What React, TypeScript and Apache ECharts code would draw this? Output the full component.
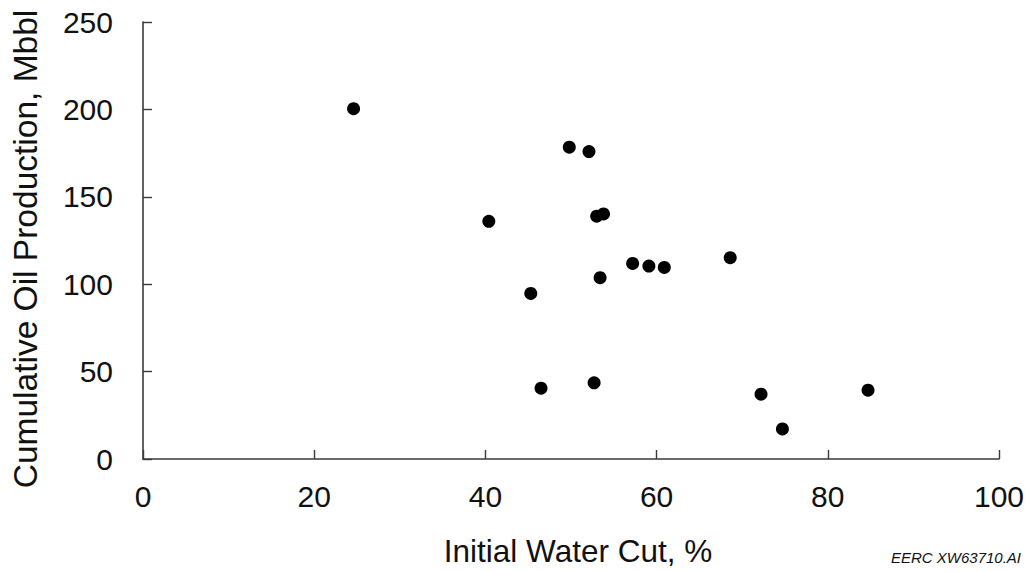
import React, { useEffect, useRef } from "react";
import * as echarts from "echarts";

// Initial water cut (%) and cumulative oil production (Mbbl) per well
const waterCut = [24.6, 49.8, 52.1, 40.4, 53.0, 53.8, 57.2, 59.1, 60.9, 68.6, 53.4, 45.3, 46.5, 52.7, 72.2, 74.7, 84.7];
const oilProduction = [200.4, 178.4, 175.9, 136.0, 138.9, 140.2, 111.9, 110.4, 109.6, 115.2, 103.7, 94.7, 40.5, 43.6, 37.1, 17.2, 39.4];

const xTitle = "Initial Water Cut, %";
const yTitle = "Cumulative Oil Production, Mbbl";
const figureId = "EERC XW63710.AI";

const FONT = "'Liberation Sans', Arial, sans-serif";

export default function App() {
  const ref = useRef<HTMLDivElement>(null);

  useEffect(() => {
    if (!ref.current) return;
    const chart = echarts.init(ref.current, null, { renderer: "svg" });
    const points = waterCut.map((x, i) => [x, oilProduction[i]]);
    chart.setOption({
      animation: false,
      backgroundColor: "#ffffff",
      grid: { left: 143, right: 29, top: 22, bottom: 112, containLabel: false },
      xAxis: {
        type: "value",
        min: 0,
        max: 100,
        interval: 20,
        splitLine: { show: false },
        axisLine: { show: true, lineStyle: { color: "#3a3a3a", width: 1.6 } },
        axisTick: { show: true, inside: true, length: 9, lineStyle: { color: "#3a3a3a", width: 1.4 } },
        axisLabel: { color: "#111", fontSize: 30, fontFamily: FONT, margin: 22 },
      },
      yAxis: {
        type: "value",
        min: 0,
        max: 250,
        interval: 50,
        splitLine: { show: false },
        axisLine: { show: true, lineStyle: { color: "#3a3a3a", width: 1.6 } },
        axisTick: { show: true, inside: true, length: 9, lineStyle: { color: "#3a3a3a", width: 1.4 } },
        axisLabel: { color: "#111", fontSize: 30, fontFamily: FONT, margin: 30 },
      },
      graphic: [
        {
          type: "text",
          x: 578,
          y: 551,
          style: {
            text: xTitle,
            fill: "#111",
            font: `31.5px ${FONT}`,
            textAlign: "center",
            textVerticalAlign: "middle",
          },
        },
        {
          type: "text",
          x: 25,
          y: 249,
          rotation: Math.PI / 2,
          style: {
            text: yTitle,
            fill: "#111",
            font: `33.5px ${FONT}`,
            textAlign: "center",
            textVerticalAlign: "middle",
          },
        },
        {
          type: "text",
          x: 1021,
          y: 557,
          style: {
            text: figureId,
            fill: "#111",
            font: `italic 15px ${FONT}`,
            textAlign: "right",
            textVerticalAlign: "middle",
          },
        },
      ],
      series: [
        {
          type: "scatter",
          data: points,
          symbol: "circle",
          symbolSize: 13,
          itemStyle: { color: "#000000", opacity: 1 },
        },
      ],
    });
    return () => chart.dispose();
  }, []);

  return (
    <div
      ref={ref}
      style={{ position: "fixed", left: 0, top: 0, width: 1028, height: 571 }}
    />
  );
}
